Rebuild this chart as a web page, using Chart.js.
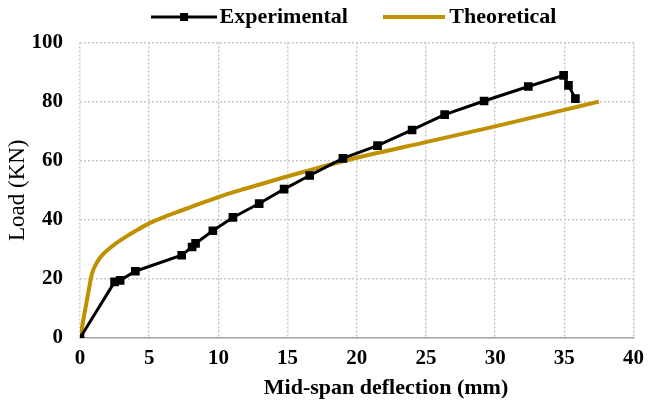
<!DOCTYPE html>
<html>
<head>
<meta charset="utf-8">
<script src="https://cdn.jsdelivr.net/npm/chart.js@4"></script>
<style>
  html, body { margin: 0; padding: 0; background: #fff; }
  #wrap { width: 652px; height: 405px; }
</style>
</head>
<body>
<div id="wrap"><canvas id="chart" width="652" height="405"></canvas></div>
<script>
// --- data ---
const expDeflection = [0, 2.5, 2.9, 4.0, 7.35, 8.1, 8.35, 9.6, 11.05, 12.95, 14.75, 16.6, 19.0, 21.5, 24.0, 26.35, 29.2, 32.4, 34.95, 35.3, 35.8];
const expLoad       = [0, 19.0, 19.5, 22.6, 28.0, 30.8, 32.0, 36.3, 40.8, 45.5, 50.4, 55.0, 60.8, 65.1, 70.4, 75.6, 80.2, 85.1, 88.9, 85.5, 81.0];

const theoDeflection = [0, 0.2, 0.45, 0.7, 0.85, 1.1, 1.5, 2.0, 2.6, 3.3, 4.0, 5.0, 6.0, 7.0, 8.0, 10.0, 12.0, 14.7, 17.0, 20.0, 25.0, 30.0, 35.0, 37.5];
const theoLoad       = [0, 5.0, 11.5, 18.0, 21.5, 24.5, 27.5, 29.8, 32.0, 34.2, 36.2, 38.8, 40.8, 42.6, 44.3, 47.7, 50.6, 54.3, 57.3, 61.0, 66.3, 71.6, 77.2, 80.0];

const xTicks = [0, 5, 10, 15, 20, 25, 30, 35, 40];
const yTicks = [0, 20, 40, 60, 80, 100];

const GOLD = '#BF9000';
const FONT = "'Liberation Serif', 'Times New Roman', serif";
const LEGEND_PAD = 41.5;

// legend symbols (line + square marker)
function legendSymbol(color, width, lineW, marker) {
    const c = document.createElement('canvas');
    c.width = width; c.height = 14;
    const g = c.getContext('2d');
    g.strokeStyle = color; g.lineWidth = lineW;
    g.beginPath(); g.moveTo(0, 7); g.lineTo(width, 7); g.stroke();
    if (marker) { g.fillStyle = color; g.fillRect(width / 2 - 4, 3, 8, 8); }
    return c;
}
const expSymbol = legendSymbol('#000', 66, 3, true);
const theoSymbol = legendSymbol(GOLD, 62, 4, false);

const toPoints = (xs, ys) => xs.map((x, i) => ({ x: x, y: ys[i] }));

// nudge the legend into place and draw the x title off-centre, as in the reference
const layoutTweaks = {
    id: 'layoutTweaks',
    afterLayout(chart) {
        const lg = chart.legend;
        const dx = 32;
        const dy = 17 - (lg.top + LEGEND_PAD + 11);
        lg.left += dx; lg.right += dx;
        lg.top += dy; lg.bottom += dy;
    },
    afterDraw(chart) {
        const ctx = chart.ctx;
        ctx.save();
        ctx.font = "bold 22px " + FONT;
        ctx.fillStyle = '#000';
        ctx.textAlign = 'center';
        ctx.textBaseline = 'middle';
        ctx.fillText('Mid-span deflection (mm)', 386, 388);
        ctx.restore();
    }
};

new Chart(document.getElementById('chart'), {
    type: 'line',
    data: {
        datasets: [{
            label: 'Experimental',
            data: toPoints(expDeflection, expLoad),
            borderColor: '#000',
            backgroundColor: '#000',
            borderWidth: 3,
            pointStyle: 'rect',
            pointRadius: 4,
            tension: 0,
            order: 0
        }, {
            label: 'Theoretical',
            data: toPoints(theoDeflection, theoLoad),
            borderColor: GOLD,
            backgroundColor: GOLD,
            borderWidth: 4,
            pointRadius: 0,
            cubicInterpolationMode: 'monotone',
            order: 1
        }]
    },
    options: {
        responsive: false,
        animation: false,
        layout: { padding: { left: 0, right: 0, top: -31, bottom: 0 } },
        plugins: {
            tooltip: { enabled: false },
            legend: {
                position: 'top',
                labels: {
                    usePointStyle: true,
                    pointStyleWidth: 49,
                    padding: LEGEND_PAD,
                    color: '#000',
                    font: { family: FONT, size: 22, weight: 'bold' },
                    generateLabels: () => [
                        { text: 'Experimental', pointStyle: expSymbol, fontColor: '#000', datasetIndex: 0 },
                        { text: 'Theoretical', pointStyle: theoSymbol, fontColor: '#000', datasetIndex: 1 }
                    ]
                }
            }
        },
        scales: {
            x: {
                type: 'linear',
                min: 0,
                max: 40,
                afterBuildTicks: (s) => { s.ticks = xTicks.map(v => ({ value: v })); },
                ticks: { color: '#000', padding: 8, maxRotation: 0, font: { family: FONT, size: 21, weight: 'bold' } },
                grid: { color: '#c8c8c8', lineWidth: 1.5, drawTicks: false },
                border: { display: true, color: '#a6a6a6', width: 1.5, dash: [2, 2] },
                afterFit: (s) => { s.height = 67; }
            },
            y: {
                min: 0,
                max: 100,
                afterBuildTicks: (s) => { s.ticks = yTicks.map(v => ({ value: v })); },
                ticks: { color: '#000', padding: 17, font: { family: FONT, size: 21, weight: 'bold' } },
                grid: { color: '#c8c8c8', lineWidth: 1.5, drawTicks: false },
                border: { display: false, dash: [2, 2] },
                title: {
                    display: true,
                    text: 'Load (KN)',
                    color: '#000',
                    padding: { top: 4, bottom: 0 },
                    font: { family: FONT, size: 23, weight: 'normal' }
                },
                afterFit: (s) => { s.width = 80; }
            }
        }
    },
    plugins: [layoutTweaks]
});
</script>
</body>
</html>
